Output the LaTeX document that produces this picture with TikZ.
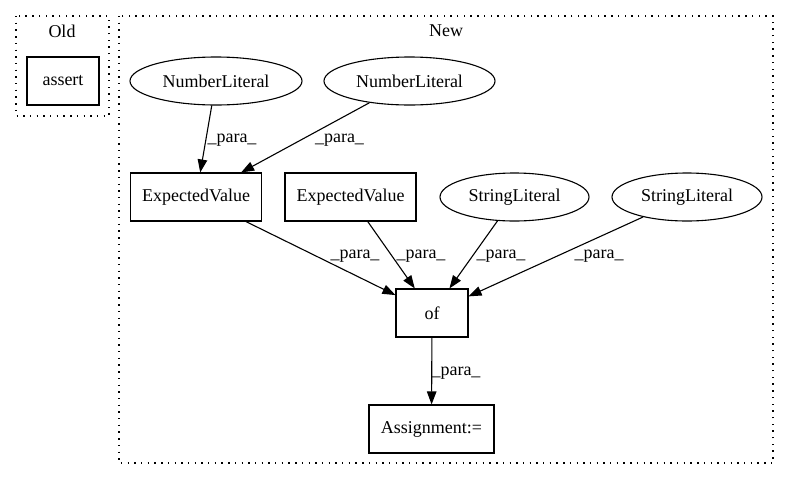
\documentclass[tikz,border=0pt]{standalone}
\usepackage{fontspec}
\setmainfont{Liberation Serif}
\usetikzlibrary{shapes.geometric,arrows.meta}

\tikzset{
  base/.style={draw, line width=1.1pt, inner sep=0pt, font=\fontsize{18pt}{22pt}\selectfont},
  box/.style={base, rectangle, minimum height=48pt},
  oval/.style={base, ellipse, minimum height=48pt},
  cluster/.style={draw, line width=1.3pt, dash pattern=on 1.4pt off 5.3pt},
  ctitle/.style={font=\fontsize{18pt}{22pt}\selectfont, inner sep=0pt},
  edge/.style={line width=1.1pt, -{Triangle[length=13pt,width=9.5pt]}},
  elabel/.style={font=\fontsize{18pt}{22pt}\selectfont, inner sep=0pt},
}

\begin{document}
\begin{tikzpicture}[x=1pt, y=-1pt]
  \useasboundingbox (0,0) rectangle (789,480);

  % clusters
  \draw[cluster] (16,16) rectangle (109,116);
  \node[ctitle] (oldtitle) at (62,31) {Old};
  \draw[cluster] (119,16) rectangle (773,463);
  \node[ctitle] (newtitle) at (446,31) {New};

  % Old
  \node[box, minimum width=72pt] (assert) at (63,81) {assert};

  % New
  \node[oval, minimum width=172pt] (nl1) at (216,81) {NumberLiteral};
  \node[oval, minimum width=171pt] (nl2) at (409.5,81) {NumberLiteral};
  \node[box, minimum width=131pt] (ev1) at (196,197) {ExpectedValue};
  \node[box, minimum width=131pt] (ev2) at (350.5,197) {ExpectedValue};
  \node[oval, minimum width=149pt] (sl1) at (514.5,197) {StringLiteral};
  \node[oval, minimum width=150pt] (sl2) at (687,197) {StringLiteral};
  \node[box, minimum width=72pt] (of) at (432,313) {of};
  \node[box, minimum width=125pt] (assign) at (431.5,429) {Assignment:=};

  % edges
  \draw[edge] (nl1) -- (ev1) node[elabel, at={(232,140)}] {\_para\_};
  \draw[edge] (nl2) -- (ev1) node[elabel, at={(339.5,140)}] {\_para\_};
  \draw[edge] (ev1) -- (of) node[elabel, at={(355,256)}] {\_para\_};
  \draw[edge] (ev2) -- (of) node[elabel, at={(421,256)}] {\_para\_};
  \draw[edge] (sl1) -- (of) node[elabel, at={(501,256)}] {\_para\_};
  \draw[edge] (sl2) -- (of) node[elabel, at={(599,256)}] {\_para\_};
  \draw[edge] (of) -- (assign) node[elabel, at={(456,373)}] {\_para\_};
\end{tikzpicture}
\end{document}
